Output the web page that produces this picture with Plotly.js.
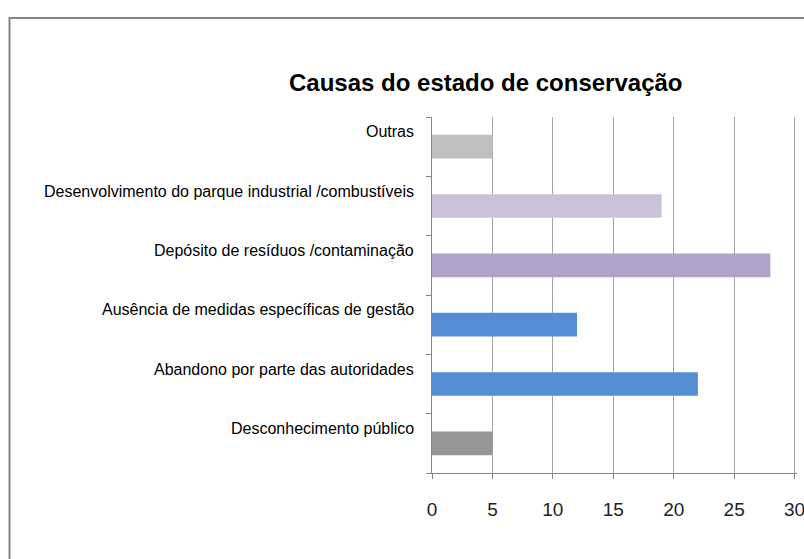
<!DOCTYPE html>
<html>
<head>
<meta charset="utf-8">
<script src="https://cdn.plot.ly/plotly-3.0.1.min.js"></script>
<style>html,body{margin:0;padding:0;background:#fff}#chart{width:804px;height:559px}</style>
</head>
<body>
<div id="chart"></div>
<script>
var categories = [
  "Desconhecimento público",
  "Abandono por parte das autoridades",
  "Ausência de medidas específicas de gestão",
  "Depósito de resíduos /contaminação",
  "Desenvolvimento do parque industrial /combustíveis",
  "Outras"
];
var values = [5, 22, 12, 28, 19, 5];
var barColors = ["#969696", "#558ed5", "#558ed5", "#b3a2c7", "#ccc1da", "#bfbfbf"];
var xTicks = [0, 5, 10, 15, 20, 25, 30];
var titleText = "Causas do estado de conservação";

var W = 804, H = 559;
var M = {l: 432, r: 7, t: 117, b: 86};
var pw = W - M.l - M.r, ph = H - M.t - M.b;
function px2x(px){ return (px - M.l) / pw; }
function px2y(py){ return 1 - (py - M.t) / ph; }

var labelFont = {family: "Liberation Sans, Arial, sans-serif", size: 16, color: "#000"};

var annotations = categories.map(function(c){
  return {
    xref: "paper", yref: "y", x: px2x(416), y: c,
    text: c, showarrow: false, xanchor: "right", yanchor: "middle",
    yshift: 15, font: labelFont
  };
});
annotations.push({
  xref: "paper", yref: "paper", x: px2x(486), y: px2y(82),
  text: "<b>" + titleText + "</b>", showarrow: false, xanchor: "center", yanchor: "middle",
  font: {family: "Liberation Sans, Arial, sans-serif", size: 24, color: "#000"}
});

var data = [{
  type: "bar", orientation: "h",
  y: categories, x: values,
  marker: {color: barColors, line: {width: 0}},
  width: 0.4,
  hoverinfo: "x+y"
}];

var layout = {
  width: W, height: H,
  margin: M,
  paper_bgcolor: "#fff", plot_bgcolor: "#fff",
  showlegend: false,
  xaxis: {
    range: [0, 30.2], tickvals: xTicks, ticktext: xTicks.map(String),
    showgrid: true, gridcolor: "#a6a6a6", gridwidth: 1,
    showline: true, linecolor: "#868686", linewidth: 1,
    ticks: "outside", ticklen: 5, tickcolor: "#868686",
    ticklabelstandoff: 14, ticklabeloverflow: "allow",
    tickfont: {family: "Liberation Sans, Arial, sans-serif", size: 19, color: "#222"},
    zeroline: false, fixedrange: true, automargin: false
  },
  yaxis: {
    type: "category", categoryorder: "array", categoryarray: categories,
    showticklabels: false,
    showline: true, linecolor: "#868686", linewidth: 1,
    ticks: "outside", ticklen: 5, tickcolor: "#868686", tickson: "boundaries",
    showgrid: false, zeroline: false, fixedrange: true
  },
  annotations: annotations,
  shapes: [{
    type: "rect", xref: "paper", yref: "paper",
    x0: px2x(9.5), x1: px2x(W + 20), y0: px2y(H + 20), y1: px2y(18),
    line: {color: "#868686", width: 2}, fillcolor: "rgba(0,0,0,0)", layer: "below"
  }]
};

Plotly.newPlot("chart", data, layout, {displayModeBar: false, staticPlot: true});
</script>
</body>
</html>
